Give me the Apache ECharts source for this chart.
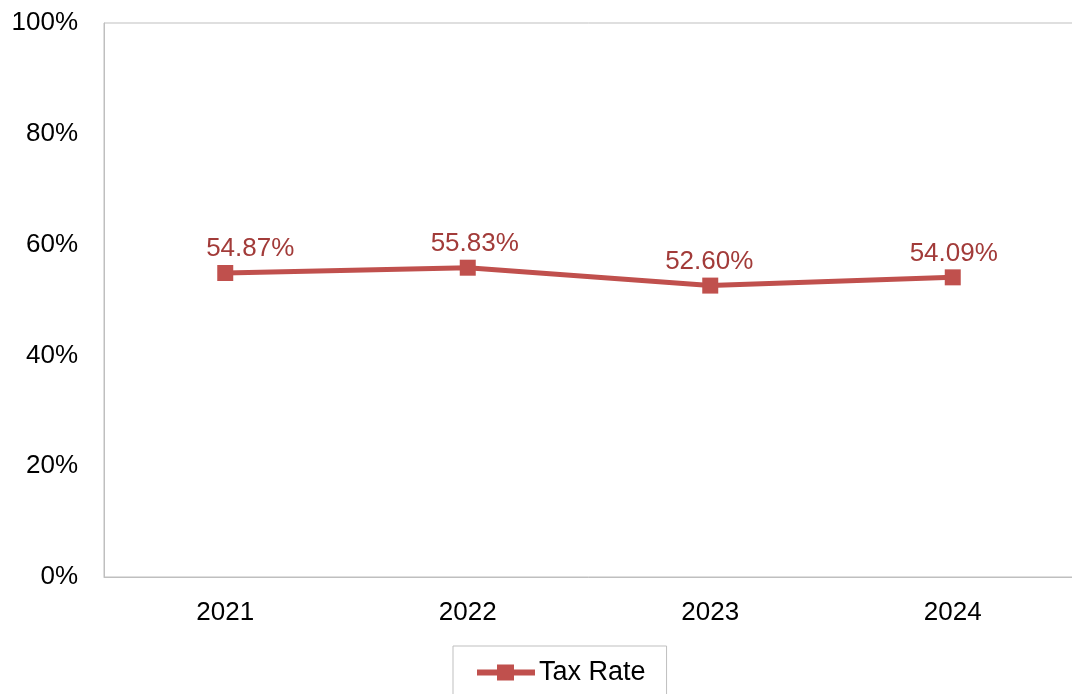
<!DOCTYPE html>
<html><head><meta charset="utf-8">
<script src="https://cdn.jsdelivr.net/npm/echarts@6/dist/echarts.min.js"></script>
<style>html,body{margin:0;padding:0;background:#fff}#c{width:1072px;height:694px}</style>
</head><body><div id="c"></div>
<script>
const categories = ['2021', '2022', '2023', '2024'];
const taxRate = [54.87, 55.83, 52.60, 54.09];
const yTicks = [0, 20, 40, 60, 80, 100];
const labelOffsets = [[25, 0], [7, 0], [-1, 0], [1, 0]];

const chart = echarts.init(document.getElementById('c'));
const FONT = '"Liberation Sans", Arial, sans-serif';
chart.setOption({
  animation: false,
  grid: { left: 104, right: -2, top: 23, bottom: 117, outerBoundsMode: 'none', containLabel: false, show: true, borderColor: '#bfbfbf', borderWidth: 1 },
  xAxis: {
    type: 'category', data: categories, boundaryGap: true,
    axisLine: { show: true, lineStyle: { color: '#bfbfbf' } },
    axisTick: { show: false },
    axisLabel: { color: '#000', fontSize: 26, fontFamily: FONT, margin: 23 }
  },
  yAxis: {
    type: 'value', min: 0, max: 100, interval: 20,
    axisLine: { show: true, lineStyle: { color: '#bfbfbf' } },
    axisTick: { show: false },
    splitLine: { show: false },
    axisLabel: { color: '#000', fontSize: 26, fontFamily: FONT, margin: 26, formatter: v => yTicks.includes(v) ? v + '%' : '' }
  },
  legend: {
    left: 453, top: 646, width: 190,
    padding: [13, 21, 30, 24],
    borderColor: '#bfbfbf', borderWidth: 1, borderRadius: 0,
    itemWidth: 60, itemHeight: 16, itemGap: 2,
    textStyle: { color: '#000', fontSize: 27, fontFamily: FONT, padding: [0, 0, 0, -2] },
    data: [{ name: 'Tax Rate', icon: 'path://M0,5 L20,5 L20,0 L37,0 L37,5 L58,5 L58,11 L37,11 L37,16 L20,16 L20,11 L0,11 Z' }]
  },
  series: [{
    name: 'Tax Rate', type: 'line',
    data: taxRate.map((v, i) => ({ value: v, label: { offset: labelOffsets[i] } })),
    symbol: 'rect', symbolSize: 16,
    lineStyle: { color: '#C0504D', width: 5 },
    itemStyle: { color: '#C0504D' },
    label: {
      show: true, position: 'top', distance: 3,
      color: '#A23B39', fontSize: 26, fontFamily: FONT,
      formatter: p => p.value.toFixed(2) + '%'
    }
  }]
});
</script></body></html>
